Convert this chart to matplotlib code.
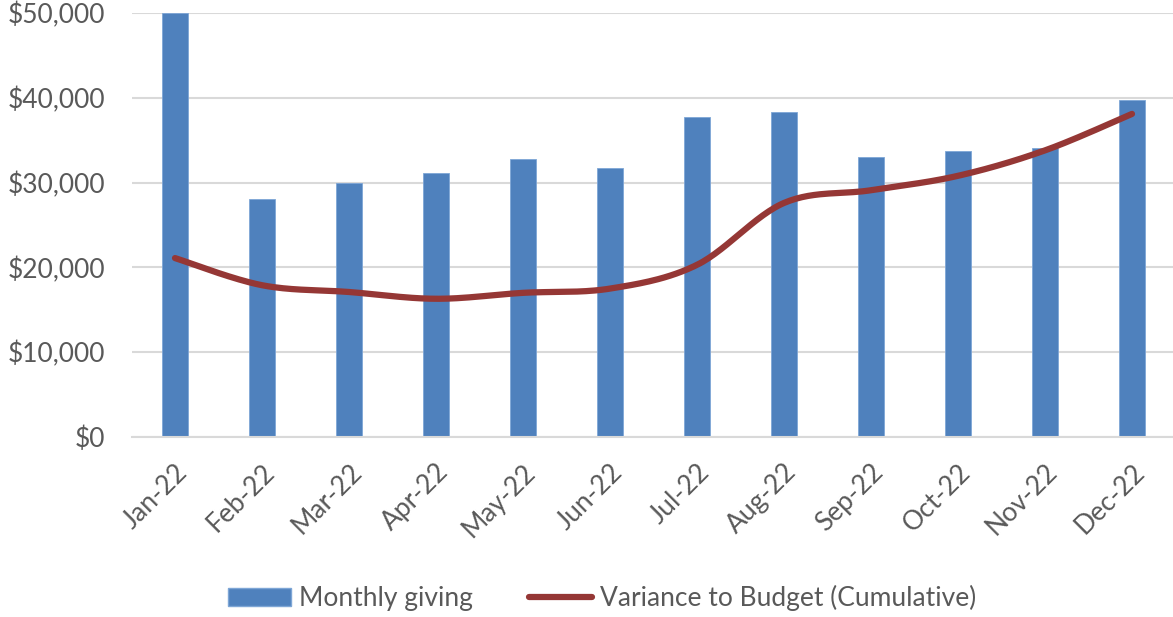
import numpy as np
import matplotlib.pyplot as plt
from matplotlib.ticker import FuncFormatter
from matplotlib.lines import Line2D
from matplotlib.patches import Patch

months = ["Jan-22", "Feb-22", "Mar-22", "Apr-22", "May-22", "Jun-22",
          "Jul-22", "Aug-22", "Sep-22", "Oct-22", "Nov-22", "Dec-22"]
monthly_giving = [50000, 28100, 30000, 31100, 32800, 31700,
                  37700, 38300, 33000, 33700, 34100, 39700]
variance_cum = [21100, 17900, 17100, 16300, 17000, 17500,
                20300, 27600, 29100, 30800, 33800, 38100]

plt.rcParams["font.family"] = ["Lato", "DejaVu Sans"]
text_col = "#595959"


# Excel-style smoothed line (cubic bezier through the points)
def smooth(x, y, n=30):
    x = np.asarray(x, float)
    y = np.asarray(y, float)
    px = np.concatenate([[x[0]], x, [x[-1]]])
    py = np.concatenate([[y[0]], y, [y[-1]]])
    xs, ys = [], []
    t = np.linspace(0, 1, n)
    for i in range(len(x) - 1):
        p0 = np.array([px[i + 1], py[i + 1]])
        p3 = np.array([px[i + 2], py[i + 2]])
        c1 = p0 + (np.array([px[i + 2], py[i + 2]]) - np.array([px[i], py[i]])) / 6
        c2 = p3 - (np.array([px[i + 3], py[i + 3]]) - np.array([px[i + 1], py[i + 1]])) / 6
        b = ((1 - t) ** 3)[:, None] * p0 + (3 * (1 - t) ** 2 * t)[:, None] * c1 \
            + (3 * (1 - t) * t ** 2)[:, None] * c2 + (t ** 3)[:, None] * p3
        xs.extend(b[:, 0])
        ys.extend(b[:, 1])
    return np.array(xs), np.array(ys)


fig = plt.figure(figsize=(11.73, 6.17), dpi=100)
ax = fig.add_axes([131.5 / 1173, 1 - 437 / 617, 1044 / 1173, 424 / 617])

x = np.arange(len(months))
ax.bar(x, monthly_giving, width=0.31, color="#4F81BD", edgecolor="#7EA6D6",
       linewidth=0.6, zorder=2)
sx, sy = smooth(x, variance_cum)
ax.plot(sx, sy, color="#953735", lw=4.5, solid_capstyle="round", zorder=3)

ax.set_xlim(-0.5, 11.5)
ax.set_ylim(0, 50000)
ax.set_yticks(range(0, 50001, 10000))
ax.yaxis.set_major_formatter(FuncFormatter(lambda v, p: "${:,.0f}".format(v)))
ax.grid(axis="y", color="#D9D9D9", lw=1.5, zorder=0)
ax.set_axisbelow(True)
for s in ["top", "right", "left"]:
    ax.spines[s].set_visible(False)
ax.spines["bottom"].set_color("#D9D9D9")
ax.spines["bottom"].set_linewidth(1.5)
ax.tick_params(axis="both", length=0, labelsize=19, colors=text_col)
ax.tick_params(axis="y", pad=19)
ax.set_xticks(x)
ax.set_xticklabels(months, rotation=45, ha="right", rotation_mode="anchor")
ax.tick_params(axis="x", pad=16)

handles = [Patch(facecolor="#4F81BD", edgecolor="#7EA6D6"),
           Line2D([0], [0], color="#953735", lw=4.5, solid_capstyle="round")]
fig.legend(handles, ["Monthly giving", "Variance to Budget (Cumulative)"],
           loc="center", bbox_to_anchor=(602 / 1173, 1 - 598 / 617), ncol=2,
           frameon=False, fontsize=19, labelcolor=text_col,
           handlelength=2.4, handleheight=0.7, handletextpad=0.3, columnspacing=2.1)

fig.savefig("out.png", dpi=100)
